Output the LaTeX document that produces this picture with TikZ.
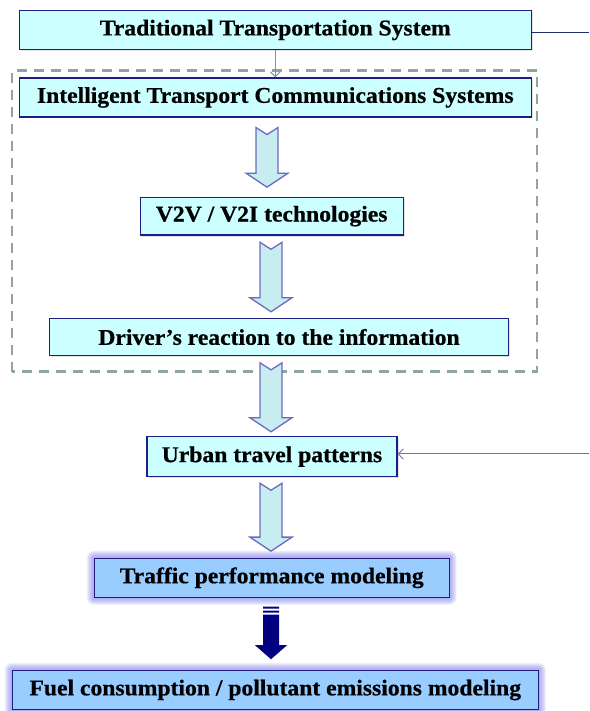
\documentclass[tikz,border=0pt]{standalone}
\usepackage{fontspec}
\setmainfont{Liberation Serif}[FakeStretch=1.05, BoldFeatures={FakeBold=0.6}]
\usetikzlibrary{calc,backgrounds,shadows,arrows.meta}
\definecolor{cyanfill}{HTML}{CCFFFF}
\definecolor{bluefill}{HTML}{99CCFF}
\definecolor{boxline}{HTML}{1E1E82}
\definecolor{arrfill}{HTML}{C8EDF1}
\definecolor{arrline}{HTML}{6B6BBF}
\definecolor{dashc}{HTML}{90A4A6}
\definecolor{glowc}{HTML}{7A7AE6}
\definecolor{navyarr}{HTML}{000080}
\definecolor{smallarr}{HTML}{7F8FC0}
\definecolor{topline}{HTML}{1F2F6F}
\definecolor{urbline}{HTML}{6575B5}
\newcommand{\fatarrow}[5]{%
  \draw[fatarr] let \p1=(#2.south), \p2=(#3.north) in
    (#1pt-11pt,\y1-#4pt) -- (#1pt,\y1-#4pt-7pt) -- (#1pt+11pt,\y1-#4pt)
    -- (#1pt+11pt,\y2+#5pt+14pt) -- (#1pt+21pt,\y2+#5pt+14pt) -- (#1pt,\y2+#5pt)
    -- (#1pt-21pt,\y2+#5pt+14pt) -- (#1pt-11pt,\y2+#5pt+14pt) -- cycle;}
\begin{document}
\begin{tikzpicture}[x=1pt,y=1pt,
  box/.style={draw=boxline, line width=1.1pt, inner sep=0pt,
    font=\fontsize{22.5}{26}\selectfont\bfseries, text=black},
  cbox/.style={box, fill=cyanfill,
    drop shadow={shadow xshift=1.5pt, shadow yshift=-1.5pt, opacity=0.22}},
  bbox/.style={box, fill=bluefill},
  fatarr/.style={fill=arrfill, draw=arrline, line width=1.3pt, line join=miter},
  dashbox/.style={draw=dashc, line width=2.5pt, dash pattern=on 10pt off 7pt},
  thinarrow/.style={draw=smallarr, line width=1pt, -{Straight Barb[length=5pt,width=10pt]}},
  inarrow/.style={draw=urbline, line width=1pt, -{Straight Barb[length=5pt,width=10pt]}},
  plainline/.style={draw=topline, line width=1pt}
]
\useasboundingbox (0,0) rectangle (589,711);

\node[cbox, minimum width=511.5pt, minimum height=38.6pt] (trad) at (275.3,681) {Traditional Transportation System};
\node[cbox, minimum width=511.5pt, minimum height=39pt] (its) at (275.3,613.5) {Intelligent Transport Communications Systems};
\node[cbox, minimum width=263.3pt, minimum height=37.7pt] (v2v) at (271.7,494.8) {V2V / V2I technologies};
\node[cbox, minimum width=458.7pt, minimum height=37.4pt] (drv) at (279,374) {Driver’s reaction to the information};
\node[cbox, minimum width=250pt, minimum height=40pt] (urb) at (272,254.3) {Urban travel patterns};
\node[bbox, minimum width=354.7pt, minimum height=39pt] (trf) at (271.7,133.2) {Traffic performance modeling};
\node[bbox, minimum width=526pt, minimum height=39pt] (fuel) at (275.3,21) {Fuel consumption / pollutant emissions modeling};

\begin{pgfonlayer}{background}
  \draw[dashbox] (12,339.3) rectangle (537,640.5);
  \foreach \n in {trf,fuel}{
    \foreach \r in {1,...,7}{
      \fill[glowc, opacity=0.12, rounded corners=\r pt]
        ($(\n.south west)+(-\r,-\r)$) rectangle ($(\n.north east)+(\r,\r)$);
    }
  }
\end{pgfonlayer}

\draw[thinarrow] (trad.south) -- (its.north);
\coordinate (e1) at (589,678.3);
\draw[plainline] (trad.east |- e1) -- (e1);
\coordinate (e2) at (589,257);
\draw[inarrow] (e2) -- (urb.east |- e2);

\fatarrow{267}{its}{v2v}{10}{9.6}
\fatarrow{271}{v2v}{drv}{6.7}{6}
\fatarrow{271}{drv}{urb}{6.6}{4.4}
\fatarrow{271}{urb}{trf}{6}{6.6}

\fill[navyarr] let \p1=(trf.south), \p2=(fuel.north) in
  (263pt,\y1-8.7pt) rectangle (279pt,\y1-10.7pt)
  (263pt,\y1-12.7pt) rectangle (279pt,\y1-14.7pt)
  (263pt,\y1-16.7pt) -- (279pt,\y1-16.7pt) -- (279pt,\y2+24.7pt) -- (287pt,\y2+24.7pt)
  -- (271pt,\y2+10.7pt) -- (255pt,\y2+24.7pt) -- (263pt,\y2+24.7pt) -- cycle;
\end{tikzpicture}
\end{document}
